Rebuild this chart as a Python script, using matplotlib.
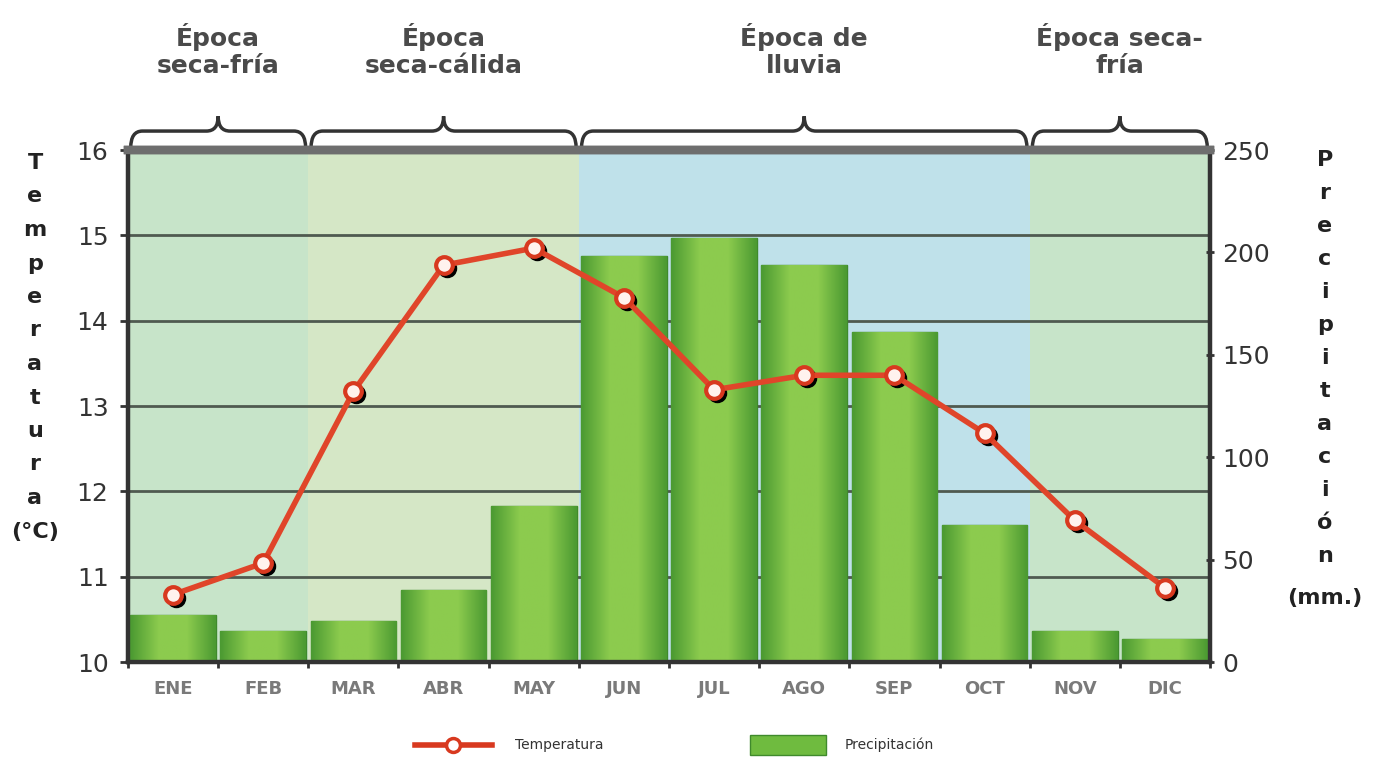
import numpy as np
import matplotlib
matplotlib.use("Agg")
import matplotlib.pyplot as plt
from matplotlib.path import Path
from matplotlib.patches import PathPatch
from matplotlib.colors import LinearSegmentedColormap
import matplotlib.transforms as mtransforms

months = ["ENE", "FEB", "MAR", "ABR", "MAY", "JUN", "JUL", "AGO", "SEP", "OCT", "NOV", "DIC"]
temperatura = [10.79, 11.16, 13.17, 14.65, 14.85, 14.27, 13.19, 13.36, 13.36, 12.68, 11.66, 10.87]
precipitacion = [23, 15, 20, 35, 76, 198, 207, 194, 161, 67, 15, 11]

# seasons: (first month index, last month index, label, band colour)
season_labels = ["Época\nseca-fría", "Época\nseca-cálida", "Época de\nlluvia", "Época seca-\nfría"]
season_start = [0, 2, 5, 10]
season_end = [1, 4, 9, 11]
season_colors = ["#c7e4c9", "#d5e7c6", "#bfe1ea", "#c7e4c9"]

temp_ticks = [10, 11, 12, 13, 14, 15, 16]
prec_ticks = [0, 50, 100, 150, 200, 250]

fig = plt.figure(figsize=(13.73, 7.57), dpi=100)
fig.patch.set_facecolor("white")
rect = [128 / 1373, 1 - 662 / 757, (1210 - 128) / 1373, (662 - 150) / 757]

ax = fig.add_axes(rect)
x = np.arange(len(months))
ax.set_xlim(-0.5, len(months) - 0.5)
ax.set_ylim(10, 16)

# background bands and grid
for s, e, c in zip(season_start, season_end, season_colors):
    ax.axvspan(s - 0.5, e + 0.5, color=c, zorder=0, lw=0)
for t in temp_ticks[1:-1]:
    ax.axhline(t, color="#4f5a50", lw=2, zorder=1)

ax.set_yticks(temp_ticks)
ax.set_yticklabels([str(t) for t in temp_ticks], fontsize=18, color="#333333")
ax.tick_params(axis="y", length=6, width=2, color="#333333", pad=8)
ax.set_xticks(x)
ax.set_xticklabels(months, fontsize=13, fontweight="bold", color="#7a7a7a")
ax.set_xticks(np.arange(-0.5, len(months)), minor=True)
ax.tick_params(axis="x", which="major", length=0, pad=13)
ax.tick_params(axis="x", which="minor", length=4, width=2, color="#333333")

# precipitation bars
axp = ax.twinx()
axp.set_ylim(0, 250)
axp.set_xlim(ax.get_xlim())
axp.patch.set_visible(False)
bars = axp.bar(x, precipitacion, width=0.95, color="#7fc04a", edgecolor="#3f8a2c", lw=1, zorder=2)
grad = LinearSegmentedColormap.from_list("g", ["#4b9a32", "#8ccb4e", "#8ccb4e", "#4b9a32"])
for b in bars:
    bx, by = b.get_x(), b.get_y()
    im = axp.imshow(np.linspace(0, 1, 64).reshape(1, -1), cmap=grad, aspect="auto",
                    extent=[bx, bx + b.get_width(), by, by + b.get_height()], zorder=2.5)
    im.set_clip_path(b)
axp.set_xlim(ax.get_xlim())
axp.set_ylim(0, 250)
axp.set_yticks(prec_ticks)
axp.set_yticklabels([str(p) for p in prec_ticks], fontsize=18, color="#333333")
axp.tick_params(axis="y", length=6, width=2, color="#333333", pad=6, direction="inout")

# temperature line on top
axl = ax.twinx()
axl.set_ylim(ax.get_ylim())
axl.set_xlim(ax.get_xlim())
axl.patch.set_visible(False)
axl.set_yticks([])
shadow = mtransforms.offset_copy(axl.transData, fig=fig, x=3, y=-3, units="dots")
axl.plot(x, temperatura, "o", ms=13, color="black", transform=shadow, zorder=3)
axl.plot(x, temperatura, "-", color="#e0452a", lw=4, zorder=4)
axl.plot(x, temperatura, "o", ms=12, mfc="#fff2ee", mec="#d8391f", mew=3, zorder=5)

for a in (ax, axp, axl):
    for side in ("left", "right", "bottom"):
        a.spines[side].set_color("#333333")
        a.spines[side].set_linewidth(3)
    a.spines["top"].set_color("#6e6e6e")
    a.spines["top"].set_linewidth(6)

# curly braces and season titles above the plot
trans = mtransforms.blended_transform_factory(ax.transData, ax.transAxes)
y_end, y_h, y_pk = 1.004, 1.037, 1.066
d = 0.13
for s, e, lab in zip(season_start, season_end, season_labels):
    x0, x1 = s - 0.5 + 0.03, e + 0.5 - 0.03
    xm = (x0 + x1) / 2
    verts = [(x0, y_end), (x0, y_h), (x0 + d, y_h),
             (xm - d, y_h), (xm, y_h), (xm, y_pk),
             (xm, y_h), (xm + d, y_h),
             (x1 - d, y_h), (x1, y_h), (x1, y_end)]
    codes = [Path.MOVETO, Path.CURVE3, Path.CURVE3,
             Path.LINETO, Path.CURVE3, Path.CURVE3,
             Path.CURVE3, Path.CURVE3,
             Path.LINETO, Path.CURVE3, Path.CURVE3]
    ax.add_patch(PathPatch(Path(verts, codes), transform=trans, fill=False,
                           lw=2.5, color="#333333", clip_on=False))
    ax.text(xm, 1.195, lab, transform=trans, ha="center", va="center",
            fontsize=18, fontweight="bold", color="#4a4a4a", linespacing=1.15)

# stacked vertical axis titles
for i, ch in enumerate("Temperatura"):
    fig.text(35 / 1373, 1 - (163 + i * 33.5) / 757, ch, ha="center", va="center",
             fontsize=16, fontweight="bold", color="#222222")
fig.text(35 / 1373, 1 - 532 / 757, "(°C)", ha="center", va="center",
         fontsize=16, fontweight="bold", color="#222222")
for i, ch in enumerate("Precipitación"):
    fig.text(1325 / 1373, 1 - (160 + i * 33) / 757, ch, ha="center", va="center",
             fontsize=16, fontweight="bold", color="#222222")
fig.text(1325 / 1373, 1 - 598 / 757, "(mm.)", ha="center", va="center",
         fontsize=16, fontweight="bold", color="#222222")

# legend drawn by hand at the bottom
fig.add_artist(plt.Line2D([415 / 1373, 492 / 1373], [1 - 745 / 757] * 2, color="#d8391f", lw=4))
fig.add_artist(plt.Line2D([453 / 1373], [1 - 745 / 757], marker="o", ms=10,
                          mfc="white", mec="#d8391f", mew=2.5))
fig.text(515 / 1373, 1 - 745 / 757, "Temperatura", fontsize=10, va="center", color="#333333")
fig.add_artist(plt.Rectangle((750 / 1373, 1 - 755 / 757), 76 / 1373, 20 / 757,
                             facecolor="#6fbb3f", edgecolor="#3f8a2c"))
fig.text(845 / 1373, 1 - 745 / 757, "Precipitación", fontsize=10, va="center", color="#333333")

fig.savefig("out.png", dpi=100)
